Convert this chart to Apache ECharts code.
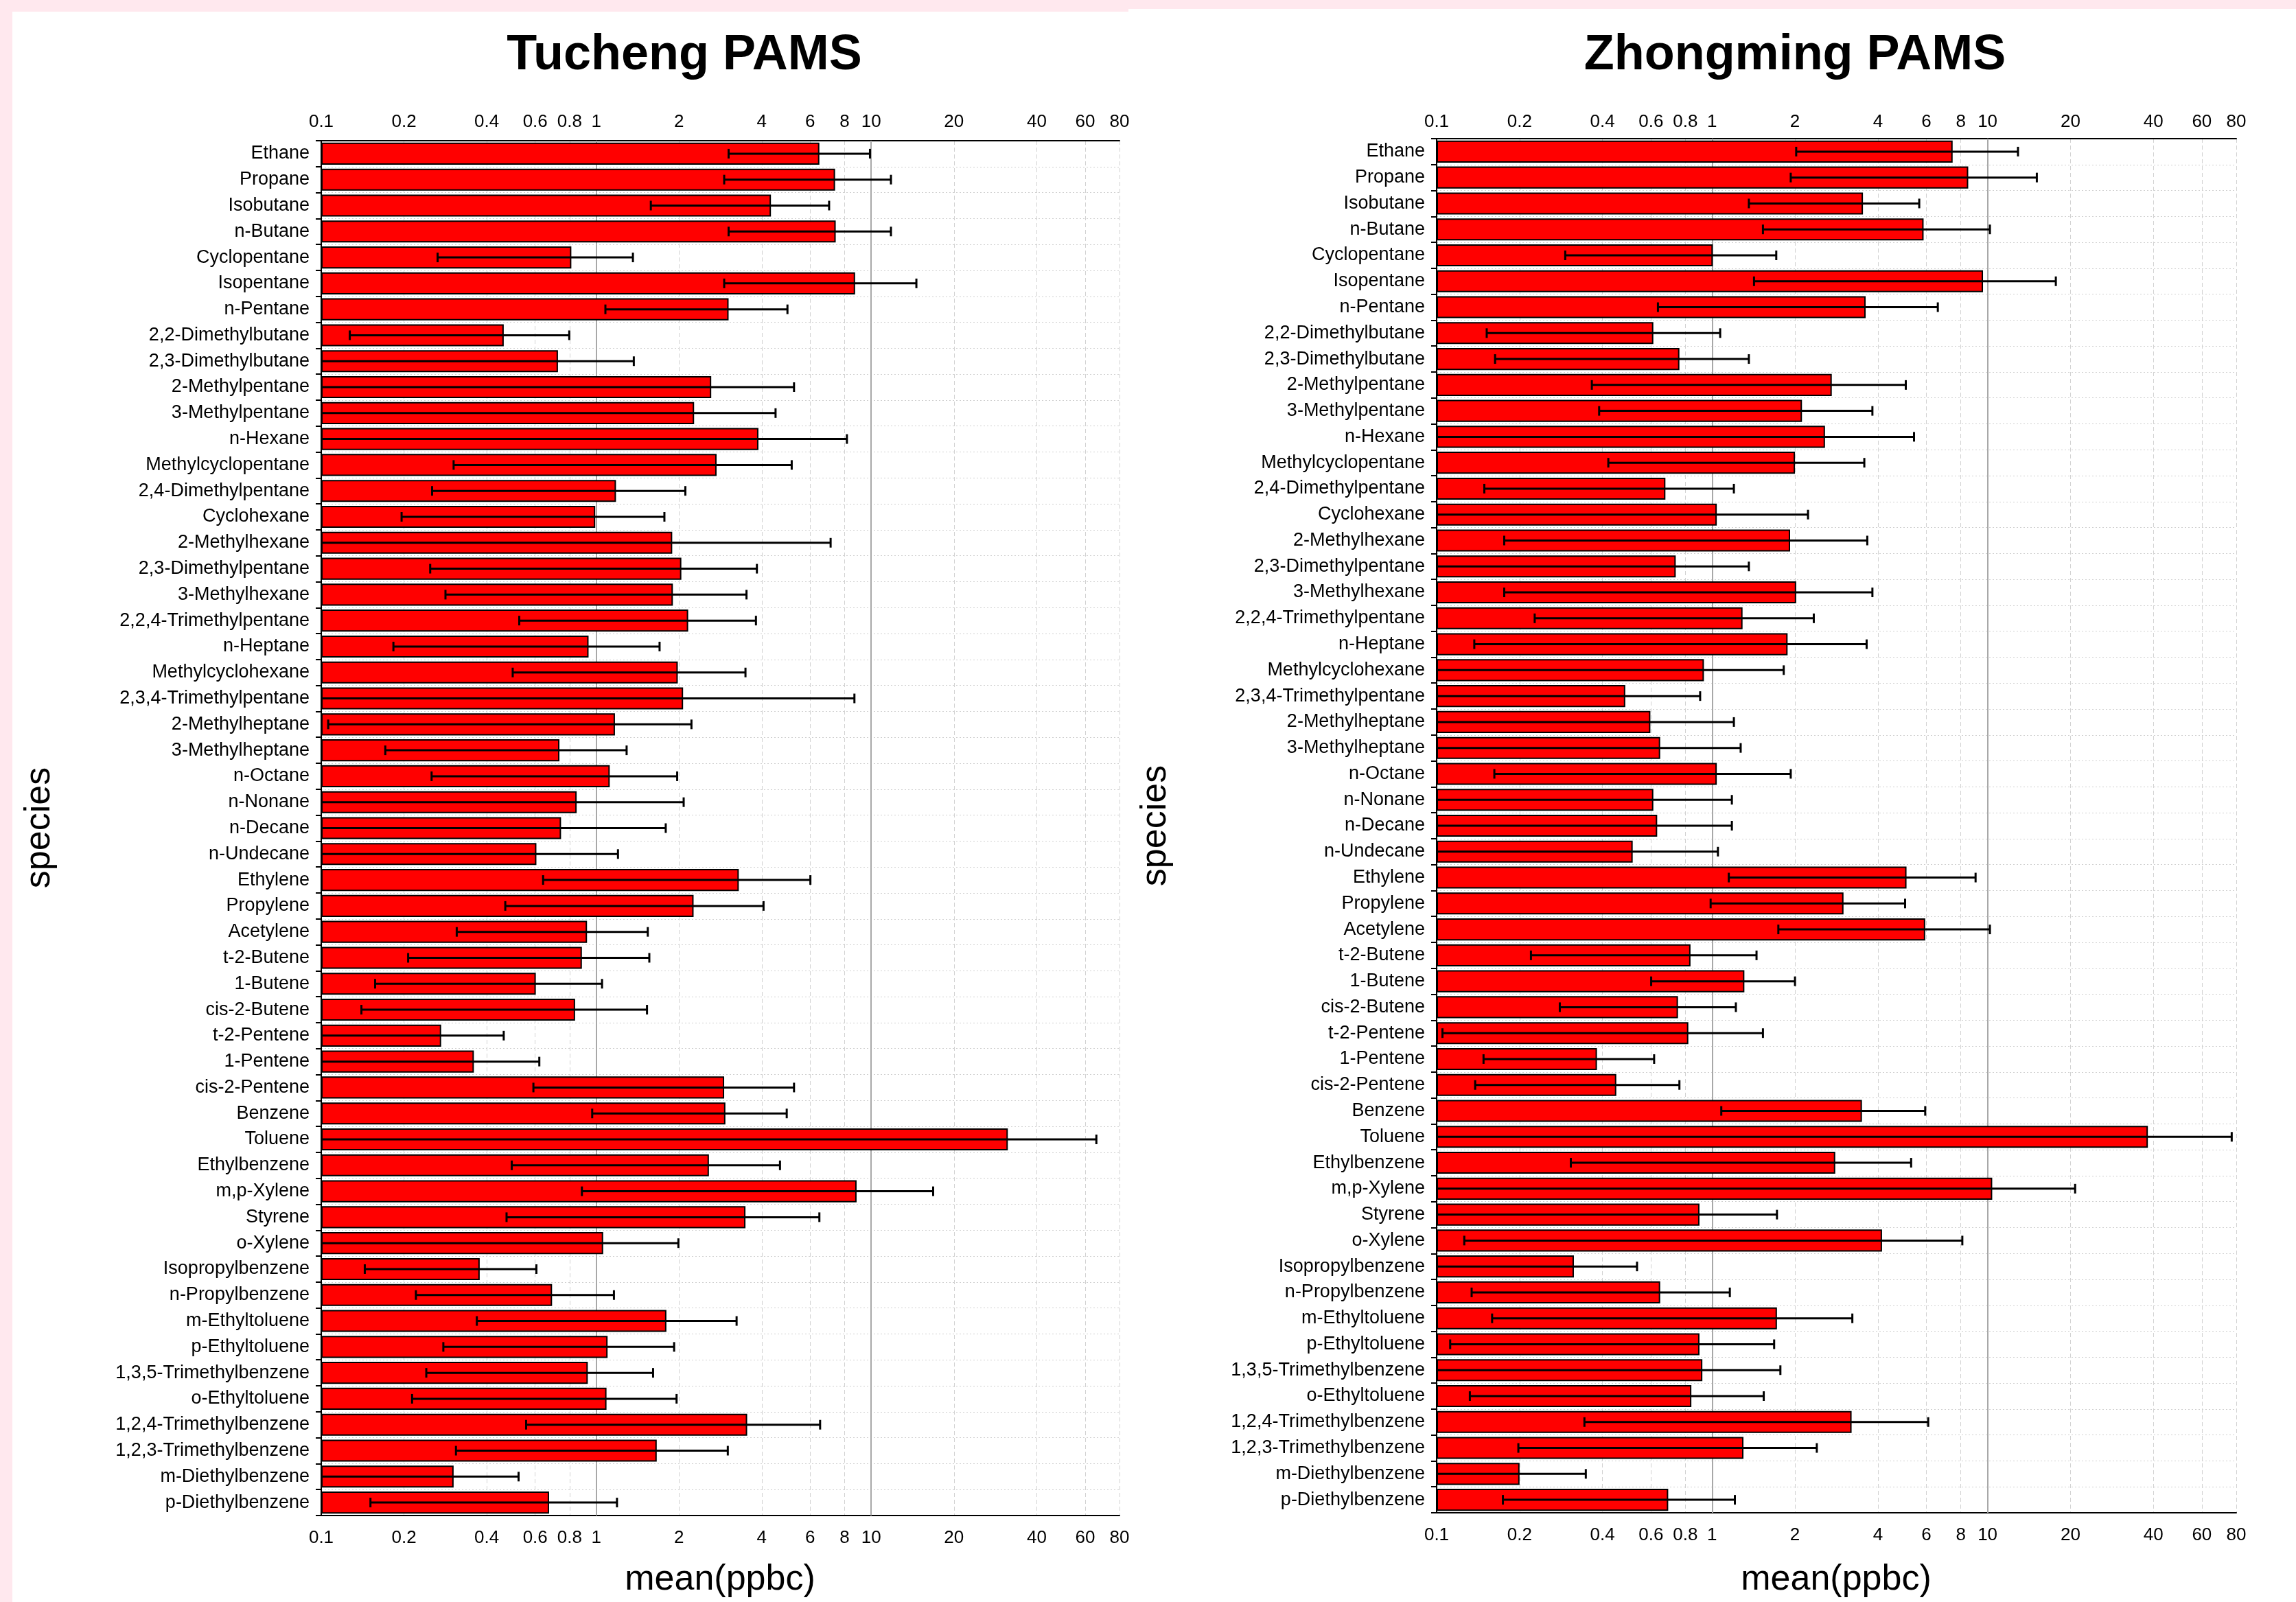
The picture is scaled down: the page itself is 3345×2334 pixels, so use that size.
<!DOCTYPE html>
<html>
<head>
<meta charset="utf-8">
<script src="https://cdn.jsdelivr.net/npm/echarts@6/dist/echarts.min.js"></script>
<style>
html,body{margin:0;padding:0;background:#ffe8ee;}
#wrap{position:relative;width:3345px;height:2334px;overflow:hidden;background:#ffe8ee;}
.panel{position:absolute;background:#fff;}
#c{position:absolute;left:0;top:0;width:3345px;height:2334px;}
</style>
</head>
<body>
<div id="wrap">
  <div class="panel" style="left:18px;top:17px;width:1626px;height:2317px;"></div>
  <div class="panel" style="left:1644px;top:13px;width:1701px;height:2321px;"></div>
  <div id="c"></div>
</div>
<script>
const species = ['Ethane','Propane','Isobutane','n-Butane','Cyclopentane','Isopentane','n-Pentane',
 '2,2-Dimethylbutane','2,3-Dimethylbutane','2-Methylpentane','3-Methylpentane','n-Hexane',
 'Methylcyclopentane','2,4-Dimethylpentane','Cyclohexane','2-Methylhexane','2,3-Dimethylpentane',
 '3-Methylhexane','2,2,4-Trimethylpentane','n-Heptane','Methylcyclohexane','2,3,4-Trimethylpentane',
 '2-Methylheptane','3-Methylheptane','n-Octane','n-Nonane','n-Decane','n-Undecane','Ethylene',
 'Propylene','Acetylene','t-2-Butene','1-Butene','cis-2-Butene','t-2-Pentene','1-Pentene',
 'cis-2-Pentene','Benzene','Toluene','Ethylbenzene','m,p-Xylene','Styrene','o-Xylene',
 'Isopropylbenzene','n-Propylbenzene','m-Ethyltoluene','p-Ethyltoluene','1,3,5-Trimethylbenzene',
 'o-Ethyltoluene','1,2,4-Trimethylbenzene','1,2,3-Trimethylbenzene','m-Diethylbenzene','p-Diethylbenzene'];

const xTicks = [0.1,0.2,0.4,0.6,0.8,1,2,4,6,8,10,20,40,60,80];
const xTickLabels = ['0.1','0.2','0.4','0.6','0.8','1','2','4','6','8','10','20','40','60','80'];
const refLines = [1, 10];

// Tucheng PAMS (ppbc); low = lower end of error bar (null: below 0.1), high = upper end
const tuchengMean = [6.48,7.39,4.32,7.43,0.812,8.74,3.03,0.461,0.726,2.62,2.27,3.89,2.74,1.18,0.992,1.89,2.04,1.90,2.16,0.938,1.98,2.07,1.17,0.735,1.12,0.849,0.745,0.606,3.30,2.26,0.926,0.887,0.603,0.838,0.273,0.359,2.92,2.95,31.4,2.57,8.85,3.49,1.06,0.377,0.691,1.80,1.10,0.932,1.09,3.54,1.66,0.303,0.674];
const tuchengLow = [3.03,2.92,1.58,3.03,0.265,2.92,1.08,0.127,null,null,null,null,0.303,0.253,0.196,null,0.249,0.283,0.525,0.183,0.497,null,0.106,0.171,0.252,null,null,null,0.641,0.467,0.311,0.207,0.157,0.140,null,null,0.591,0.967,null,0.493,0.887,0.472,null,0.144,0.221,0.368,0.278,0.241,0.214,0.556,0.309,null,0.151];
const tuchengHigh = [9.90,11.8,7.03,11.8,1.36,14.6,4.96,0.798,1.37,5.24,4.49,8.16,5.14,2.11,1.77,7.12,3.84,3.52,3.81,1.70,3.49,8.69,2.22,1.29,1.97,2.08,1.79,1.20,6.01,4.06,1.54,1.56,1.05,1.53,0.461,0.621,5.24,4.93,65.9,4.66,16.8,6.48,1.99,0.606,1.16,3.24,1.92,1.61,1.96,6.52,3.01,0.522,1.19];

// Zhongming PAMS (ppbc)
const zhongmingMean = [7.47,8.51,3.53,5.86,1.006,9.63,3.61,0.612,0.761,2.72,2.12,2.57,2.00,0.677,1.04,1.92,0.738,2.02,1.29,1.88,0.934,0.484,0.597,0.648,1.04,0.612,0.632,0.515,5.08,3.00,5.94,0.835,1.31,0.752,0.82,0.382,0.449,3.50,38.2,2.80,10.4,0.90,4.14,0.315,0.648,1.72,0.90,0.922,0.841,3.21,1.30,0.200,0.693];
const zhongmingLow = [2.02,1.93,1.36,1.53,0.293,1.42,0.636,0.152,0.163,0.366,0.389,null,0.42,0.149,null,0.176,null,0.176,0.227,0.137,null,null,null,null,0.162,null,null,null,1.15,0.988,1.74,0.22,0.601,0.28,0.105,0.148,0.138,1.08,null,0.307,null,null,0.126,null,0.134,0.159,0.112,null,0.132,0.344,0.198,null,0.174];
const zhongmingHigh = [12.9,15.1,5.65,10.2,1.71,17.7,6.60,1.07,1.36,5.05,3.82,5.41,3.57,1.20,2.23,3.66,1.36,3.82,2.34,3.64,1.82,0.905,1.20,1.27,1.93,1.18,1.18,1.05,9.05,5.02,10.2,1.45,2.00,1.22,1.53,0.616,0.761,5.94,77.0,5.28,20.8,1.72,8.10,0.534,1.16,3.23,1.68,1.77,1.54,6.09,2.40,0.348,1.21];

const FONT = '"Liberation Sans", Arial, sans-serif';
const AX_MIN = 0.1, AX_MAX = 80;
// logarithmic position relative to the axis minimum (decades above 0.1)
const L = v => Math.log10(v / AX_MIN);
const tickPos = xTicks.map(L);
const fmtTick = val => {
  for (let i = 0; i < tickPos.length; i++) if (Math.abs(tickPos[i] - val) < 1e-6) return xTickLabels[i];
  return '';
};

const chart = echarts.init(document.getElementById('c'), null, {renderer: 'canvas'});

const grids = [
  {left: 468, top: 205, width: 1163, height: 2003},
  {left: 2093, top: 202, width: 1165, height: 2002}
];

function xAxisPair(gi, topMargin) {
  const base = {
    gridIndex: gi, type: 'value', min: 0, max: L(AX_MAX),
    axisLine: {show: true, lineStyle: {color: '#000', width: 2}},
    axisLabel: {customValues: tickPos, formatter: fmtTick, color: '#000', fontSize: 26, fontFamily: FONT},
    axisTick: {customValues: tickPos, lineStyle: {color: '#000', width: 2}}
  };
  return [
    Object.assign({}, base, {
      position: 'bottom',
      axisTick: Object.assign({}, base.axisTick, {inside: false, length: 12}),
      axisLabel: Object.assign({}, base.axisLabel, {margin: 20}),
      splitLine: {show: true, lineStyle: {color: '#d2d2d2', width: 1, type: [6, 4]}}
    }),
    Object.assign({}, base, {
      position: 'top',
      axisTick: Object.assign({}, base.axisTick, {inside: true, length: 8}),
      axisLabel: Object.assign({}, base.axisLabel, {margin: topMargin}),
      splitLine: {show: false}
    })
  ];
}

function yAxis(gi) {
  return {
    gridIndex: gi, type: 'category', data: species, inverse: true, boundaryGap: true,
    axisLine: {show: true, lineStyle: {color: '#000', width: 2}},
    axisTick: {show: true, alignWithLabel: false, inside: false, length: 8, lineStyle: {color: '#000', width: 2}},
    axisLabel: {color: '#000', fontSize: 27, fontFamily: FONT, margin: 17, interval: 0},
    splitLine: {show: true, lineStyle: {color: '#d0d0d0', width: 1, type: [2, 3]}}
  };
}

function errorSeries(gi, low, high) {
  return {
    type: 'custom', xAxisIndex: gi * 2, yAxisIndex: gi, z: 5, silent: true,
    data: species.map((s, i) => [i, low[i] == null ? -1 : L(low[i]), L(high[i])]),
    encode: {y: 0, x: [1, 2]},
    renderItem: (params, api) => {
      const idx = api.value(0);
      const lo = api.value(1);
      const hi = api.value(2);
      const pLo = api.coord([lo < 0 ? 0 : lo, idx]);
      const pHi = api.coord([hi, idx]);
      const y = pHi[1];
      const cap = 7;
      const st = {stroke: '#000', lineWidth: 3};
      const children = [
        {type: 'line', shape: {x1: pLo[0], y1: y, x2: pHi[0], y2: y}, style: st},
        {type: 'line', shape: {x1: pHi[0], y1: y - cap, x2: pHi[0], y2: y + cap}, style: st}
      ];
      if (lo >= 0) children.push({type: 'line', shape: {x1: pLo[0], y1: y - cap, x2: pLo[0], y2: y + cap}, style: st});
      return {type: 'group', children};
    }
  };
}

function barSeries(gi, mean) {
  return {
    type: 'bar', xAxisIndex: gi * 2, yAxisIndex: gi, z: 2,
    data: mean.map(L),
    barCategoryGap: '15%',
    itemStyle: {color: '#ff0000', borderColor: '#000', borderWidth: 2},
    markLine: {
      silent: true, symbol: 'none', z: 1, label: {show: false},
      lineStyle: {color: '#a8a8a8', width: 2, type: 'solid'},
      data: refLines.map(v => ({xAxis: L(v)}))
    }
  };
}

const option = {
  animation: false,
  backgroundColor: 'transparent',
  grid: grids.map(g => Object.assign({outerBoundsMode: 'none', containLabel: false}, g)),
  xAxis: [...xAxisPair(0, 14), ...xAxisPair(1, 11)],
  yAxis: [yAxis(0), yAxis(1)],
  series: [
    barSeries(0, tuchengMean), errorSeries(0, tuchengLow, tuchengHigh),
    barSeries(1, zhongmingMean), errorSeries(1, zhongmingLow, zhongmingHigh)
  ],
  graphic: [
    {type: 'text', x: 997, y: 81, style: {text: 'Tucheng PAMS', font: 'bold 72px ' + FONT, fill: '#000', align: 'center', verticalAlign: 'middle'}},
    {type: 'text', x: 2615, y: 81, style: {text: 'Zhongming PAMS', font: 'bold 72px ' + FONT, fill: '#000', align: 'center', verticalAlign: 'middle'}},
    {type: 'text', x: 1049, y: 2302, style: {text: 'mean(ppbc)', font: '52px ' + FONT, fill: '#000', align: 'center', verticalAlign: 'middle'}},
    {type: 'text', x: 2675, y: 2302, style: {text: 'mean(ppbc)', font: '52px ' + FONT, fill: '#000', align: 'center', verticalAlign: 'middle'}},
    {type: 'text', x: 58, y: 1206, rotation: Math.PI / 2, style: {text: 'species', font: '52px ' + FONT, fill: '#000', align: 'center', verticalAlign: 'middle'}},
    {type: 'text', x: 1684, y: 1203, rotation: Math.PI / 2, style: {text: 'species', font: '52px ' + FONT, fill: '#000', align: 'center', verticalAlign: 'middle'}}
  ]
};
chart.setOption(option);
</script>
</body>
</html>
